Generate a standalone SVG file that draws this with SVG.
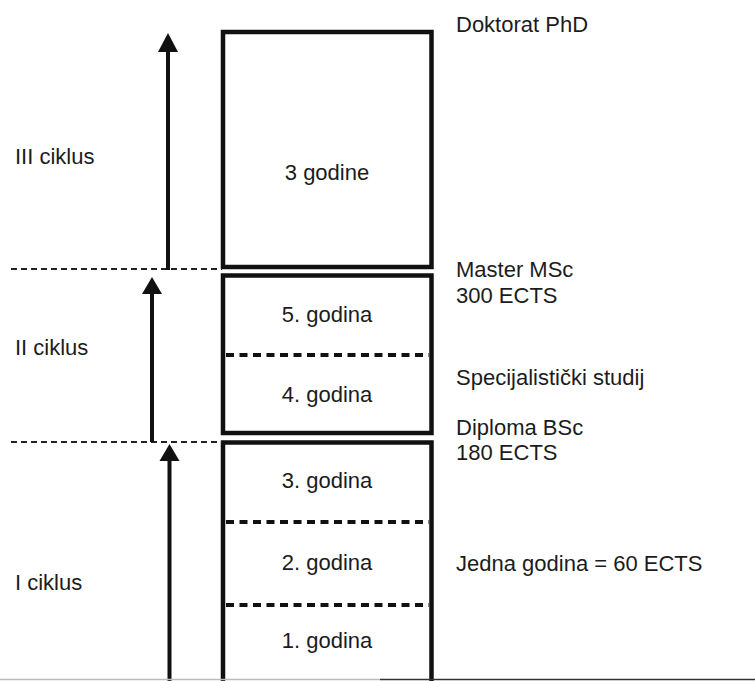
<svg xmlns="http://www.w3.org/2000/svg" width="755" height="681" viewBox="0 0 755 681">
<style>
text{font-family:"Liberation Sans",Arial,sans-serif;font-size:22px;fill:#1c1c1c}
.c{text-anchor:middle}
.box{fill:none;stroke:#111;stroke-width:4.5}
.inner{stroke:#111;stroke-width:4;stroke-dasharray:8 5.5}
.lvl{stroke:#222;stroke-width:1.8;stroke-dasharray:6 4}
.arr{stroke:#111;stroke-width:4;fill:none}
.head{fill:#111}
</style>
<rect width="755" height="681" fill="#fff"/>
<g id="cycle3">
<rect class="box" x="223" y="32" width="208.5" height="235"/>
<text class="c" x="327" y="180">3 godine</text>
</g>
<g id="cycle2">
<rect class="box" x="223" y="275.5" width="208.5" height="157.5"/>
<line class="inner" x1="226" y1="355" x2="429" y2="355"/>
<text class="c" x="327" y="322">5. godina</text>
<text class="c" x="327" y="402">4. godina</text>
</g>
<g id="cycle1">
<path class="box" d="M223 690 V442.5 H431.5 V690"/>
<line class="inner" x1="226" y1="522" x2="429" y2="522"/>
<line class="inner" x1="226" y1="605" x2="429" y2="605"/>
<text class="c" x="327" y="488">3. godina</text>
<text class="c" x="327" y="570">2. godina</text>
<text class="c" x="327" y="648">1. godina</text>
</g>
<g id="labels-left">
<text x="15" y="164">III ciklus</text>
<text x="15" y="355">II ciklus</text>
<text x="15" y="590">I ciklus</text>
</g>
<g id="labels-right">
<text x="456" y="32">Doktorat PhD</text>
<text x="456" y="277">Master MSc</text>
<text x="456" y="303">300 ECTS</text>
<text x="456" y="385">Specijalistički studij</text>
<text x="456" y="435">Diploma BSc</text>
<text x="456" y="460">180 ECTS</text>
<text x="456" y="571">Jedna godina = 60 ECTS</text>
</g>
<g id="connectors">
<line class="lvl" x1="11" y1="269" x2="222" y2="269"/>
<line class="lvl" x1="11" y1="442" x2="222" y2="442"/>
<line class="arr" x1="168" y1="50" x2="168" y2="270"/>
<polygon class="head" points="168,33 158,52 178,52"/>
<line class="arr" x1="152" y1="291" x2="152" y2="442"/>
<polygon class="head" points="152,277 142,294 162,294"/>
<line class="arr" x1="169.5" y1="458" x2="169.5" y2="690"/>
<polygon class="head" points="169.5,444 159.5,461 179.5,461"/>
</g>
<line x1="0" y1="679.5" x2="380" y2="679.5" stroke="#bbb" stroke-width="1.5"/>
<line x1="380" y1="679.5" x2="755" y2="679.5" stroke="#333" stroke-width="1.5"/>
</svg>
